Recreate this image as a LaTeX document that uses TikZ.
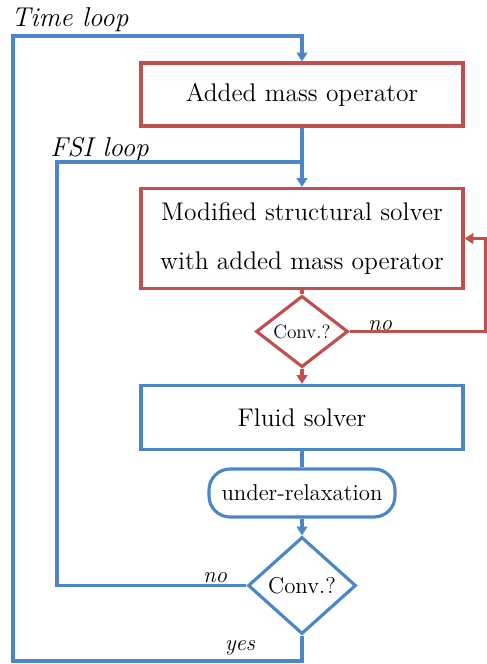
\documentclass[tikz,border=0pt]{standalone}
\usetikzlibrary{shapes.geometric,arrows.meta}
\definecolor{myred}{RGB}{192,80,77}
\definecolor{myblue}{RGB}{74,134,200}
\begin{document}
\begin{tikzpicture}[x=0.02cm,y=-0.02cm,
  boxbase/.style={line width=1.8pt,minimum width=6.44cm,inner sep=0pt,align=center,font=\fontsize{14.5}{28}\selectfont},
  redbox/.style={boxbase,draw=myred},
  bluebox/.style={boxbase,draw=myblue},
  roundbox/.style={draw=myblue,line width=1.8pt,rounded corners=0.42cm,minimum width=3.72cm,minimum height=0.96cm,inner sep=0pt,font=\fontsize{13}{16}\selectfont},
  reddiam/.style={diamond,draw=myred,line width=1.8pt,minimum width=1.84cm,minimum height=1.34cm,inner sep=0pt,font=\fontsize{11}{13}\selectfont},
  bluediam/.style={diamond,draw=myblue,line width=1.8pt,minimum width=2.16cm,minimum height=1.94cm,inner sep=0pt,font=\fontsize{13}{15}\selectfont},
  redline/.style={draw=myred,line width=1.8pt},
  blueline/.style={draw=myblue,line width=1.8pt},
  tip/.style={-{Triangle[length=5pt,width=6pt]}},
  looplabel/.style={font=\fontsize{15.5}{18}\selectfont\itshape,inner sep=0pt,anchor=west},
  anslabel/.style={font=\fontsize{13}{15}\selectfont\itshape,inner sep=0pt}
]
\useasboundingbox (0,0) rectangle (487,664);
\node[redbox,minimum height=1.26cm] (amo) at (302,94.5) {Added mass operator};
\node[redbox,minimum height=2cm] (mss) at (302,238.5) {Modified structural solver\\with added mass operator};
\node[reddiam] (c1) at (302,331.5) {Conv.?};
\node[bluebox,minimum height=1.28cm] (fs) at (302,417.5) {Fluid solver};
\node[roundbox] (ur) at (302,493) {under-relaxation};
\node[bluediam] (c2) at (302,585.5) {Conv.?};
\coordinate (tl) at (13,36);
\coordinate (tr) at (302,36);
\coordinate (bl) at (13,661);
\coordinate (bb) at (302,661);
\coordinate (fl) at (57,162);
\coordinate (fr) at (302,162);
\coordinate (nr) at (486,331.5);
\node[looplabel] (tlab) at (11,20) {Time loop};
\node[looplabel] (flab) at (50,150) {FSI loop};
\node[anslabel] (no1) at (380,326) {no};
\node[anslabel] (no2) at (215,578) {no};
\node[anslabel] (yes) at (240,648) {yes};
\draw[blueline,tip] (c2.south) -- (bb) -- (bl) -- (tl) -- (tr) -- (amo.north);
\draw[blueline,tip] (amo.south) -- (mss.north);
\draw[blueline] (c2.west) -| (fl) -- (fr);
\draw[redline,tip] (c1.east) -- (nr) |- (mss.east);
\draw[redline] (mss.south) -- (c1.north);
\draw[redline,tip] (c1.south) -- (fs.north);
\draw[blueline] (fs.south) -- (ur.north);
\draw[blueline,tip] (ur.south) -- (c2.north);
\end{tikzpicture}
\end{document}
